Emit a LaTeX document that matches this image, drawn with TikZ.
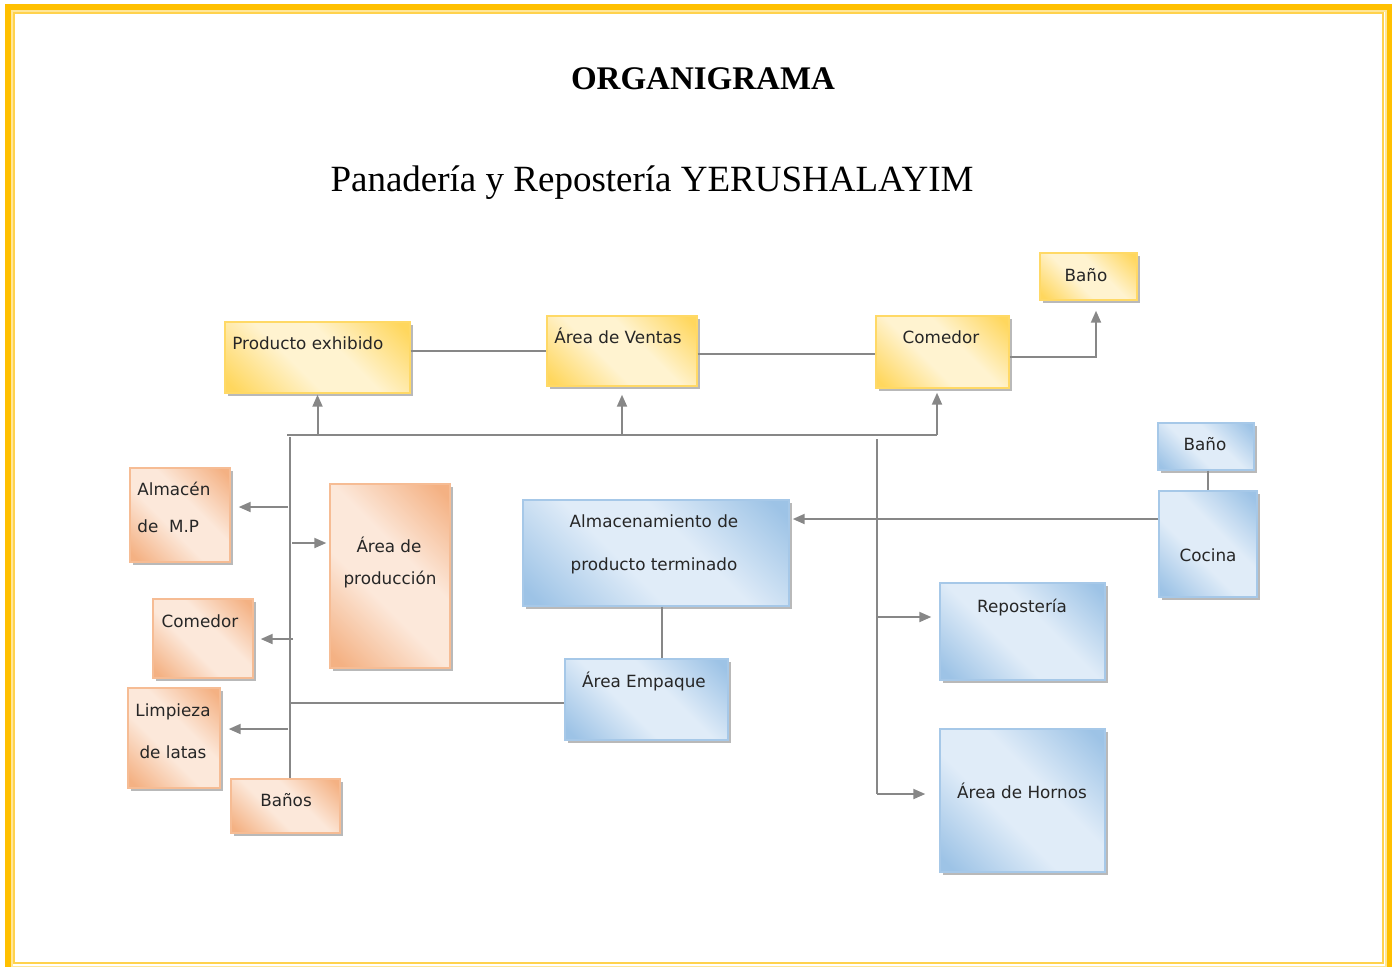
\documentclass[tikz,border=0pt]{standalone}
\usepackage{fontspec}
\setmainfont{Liberation Serif}
\newfontfamily\boxfont{DejaVu Sans}
\usetikzlibrary{fit,shadows,arrows.meta}
\definecolor{yD}{HTML}{FFD75E}
\definecolor{yL}{HTML}{FFF3D0}
\definecolor{yB}{HTML}{FFD966}
\definecolor{oD}{HTML}{F4B183}
\definecolor{oL}{HTML}{FCE8DA}
\definecolor{oB}{HTML}{F6BC94}
\definecolor{bD}{HTML}{9DC3E6}
\definecolor{bL}{HTML}{E0ECF8}
\definecolor{bB}{HTML}{A6C8E8}
\definecolor{lineG}{HTML}{878787}
\definecolor{bordO}{HTML}{FFC000}
\definecolor{bordL}{HTML}{FFE699}
\definecolor{bordI}{HTML}{FFD24D}
\pgfdeclarehorizontalshading{yshade}{100bp}{color(0bp)=(yD); color(18bp)=(yD); color(42bp)=(yL); color(58bp)=(yL); color(82bp)=(yD); color(100bp)=(yD)}
\pgfdeclarehorizontalshading{oshade}{100bp}{color(0bp)=(oD); color(18bp)=(oD); color(42bp)=(oL); color(58bp)=(oL); color(82bp)=(oD); color(100bp)=(oD)}
\pgfdeclarehorizontalshading{bshade}{100bp}{color(0bp)=(bD); color(18bp)=(bD); color(42bp)=(bL); color(58bp)=(bL); color(82bp)=(bD); color(100bp)=(bD)}
\tikzset{
  box/.style={line width=0.7pt, inner sep=0pt, shade, shading angle=45,
    drop shadow={shadow xshift=1.5pt, shadow yshift=-1.5pt, fill=black!55, opacity=0.5}},
  ybox/.style={box, draw=yB, shading=yshade},
  obox/.style={box, draw=oB, shading=oshade},
  bbox/.style={box, draw=bB, shading=bshade},
  txt/.style={font=\boxfont\fontsize{8.4}{10}\selectfont, inner sep=0pt, text=black!85},
  conn/.style={draw=lineG, line width=1pt},
  arr/.style={conn, -{Triangle[length=6pt,width=5pt]}}
}
\begin{document}
\begin{tikzpicture}[x=0.5pt,y=-0.5pt]
\useasboundingbox (0,0) rectangle (1396,966);
% frame
\draw[bordO, line width=3pt] (8,7) rectangle (1389,970);
\draw[bordL, line width=1pt] (12,11) rectangle (1385.5,966.5);
\draw[bordI, line width=1pt] (14,13) rectangle (1382.5,963);
% titles
\node[font=\bfseries\fontsize{16.5}{19}\selectfont, anchor=base, inner sep=0pt] (title) at (703,89) {ORGANIGRAMA};
\node[font=\fontsize{18.5}{22}\selectfont, anchor=base, inner sep=0pt] (sub) at (652,191) {Panadería y Repostería YERUSHALAYIM};
% yellow boxes
\node[ybox, fit={(225,322)(410,393)}] (pe) {};
\node[ybox, fit={(547,316)(697,386)}] (ve) {};
\node[ybox, fit={(876,316)(1009,388)}] (comT) {};
\node[ybox, fit={(1040,253)(1137,300)}] (banoT) {};
% orange boxes
\node[obox, fit={(130,468)(230,562)}] (alm) {};
\node[obox, fit={(330,484)(450,668)}] (prod) {};
\node[obox, fit={(153,599)(253,678)}] (comL) {};
\node[obox, fit={(128,688)(220,788)}] (limp) {};
\node[obox, fit={(231,779)(340,833)}] (banos) {};
% blue boxes
\node[bbox, fit={(523,500)(789,606)}] (almt) {};
\node[bbox, fit={(565,659)(728,740)}] (emp) {};
\node[bbox, fit={(940,583)(1105,680)}] (rep) {};
\node[bbox, fit={(940,729)(1105,872)}] (horn) {};
\node[bbox, fit={(1158,423)(1254,470)}] (banoR) {};
\node[bbox, fit={(1159,491)(1257,597)}] (coc) {};
% texts
\node[txt, anchor=base west] (tpe) at (232,349) {Producto exhibido};
\node[txt, anchor=base west] (tve) at (554,343) {Área de Ventas};
\node[txt, anchor=base] (tcomT) at (941,343) {Comedor};
\node[txt, anchor=base] (tbanoT) at (1086,281) {Baño};
\node[txt, anchor=base west] (talm1) at (137,495) {Almacén};
\node[txt, anchor=base west] (talm2) at (137,532) {de\ \ M.P};
\node[txt, anchor=base] (tprod1) at (389,552) {Área de};
\node[txt, anchor=base] (tprod2) at (390,584) {producción};
\node[txt, anchor=base] (tcomL) at (200,627) {Comedor};
\node[txt, anchor=base] (tlimp1) at (173,716) {Limpieza};
\node[txt, anchor=base] (tlimp2) at (173,758) {de latas};
\node[txt, anchor=base] (tbanos) at (286,806) {Baños};
\node[txt, anchor=base] (talmt1) at (654,527) {Almacenamiento de};
\node[txt, anchor=base] (talmt2) at (654,570) {producto terminado};
\node[txt, anchor=base] (temp) at (644,687) {Área Empaque};
\node[txt, anchor=base] (trep) at (1022,612) {Repostería};
\node[txt, anchor=base] (thorn) at (1022,798) {Área de Hornos};
\node[txt, anchor=base] (tbanoR) at (1205,450) {Baño};
\node[txt, anchor=base] (tcoc) at (1208,561) {Cocina};
% coordinates
\coordinate (h2) at (697,354);
\coordinate (cb) at (1096,357);
\coordinate (bl) at (287,435);
\coordinate (br) at (937,435);
\coordinate (lt) at (290,437);
\coordinate (a1) at (288,507);
\coordinate (a2) at (292,543);
\coordinate (a3) at (293,639);
\coordinate (a4) at (288,729);
\coordinate (a5) at (290,703);
\coordinate (ky) at (1000,519);
\coordinate (rt) at (877,439);
\coordinate (r1) at (877,617);
\coordinate (r2) at (877,794);
% top connectors
\draw[conn] (pe.east |- ve.west) -- (ve.west);
\draw[conn] (ve.east |- h2) -- (comT.west |- h2);
\draw[arr, shorten >=5pt] (comT.east |- cb) -- (cb) -- (cb |- banoT.south);
\draw[conn] (bl) -- (br);
\draw[arr, shorten >=0.5pt] (pe.south |- bl) -- (pe.south);
\draw[arr, shorten >=4pt] (ve.south |- bl) -- (ve.south);
\draw[arr, shorten >=2pt] (br) -- (br |- comT.south);
% left bus
\draw[conn] (lt) -- (banos.north -| lt);
\draw[arr, shorten >=4pt] (a1) -- (alm.east |- a1);
\draw[arr, shorten >=1.5pt] (a2) -- (prod.west |- a2);
\draw[arr, shorten >=3.5pt] (a3) -- (comL.east |- a3);
\draw[arr, shorten >=4pt] (a4) -- (limp.east |- a4);
\draw[conn] (a5) -- (emp.west |- a5);
% middle
\draw[conn] ([xshift=3pt]almt.south) -- ([xshift=3pt]almt.south |- emp.north);
\draw[arr, shorten >=1.5pt] (coc.west |- ky) -- (almt.east |- ky);
\draw[conn] (banoR.south -| coc.north) -- (coc.north);
% right bus
\draw[conn] (rt) -- (r2);
\draw[arr, shorten >=4pt] (r1) -- (rep.west |- r1);
\draw[arr, shorten >=7pt] (r2) -- (horn.west |- r2);
\end{tikzpicture}
\end{document}
